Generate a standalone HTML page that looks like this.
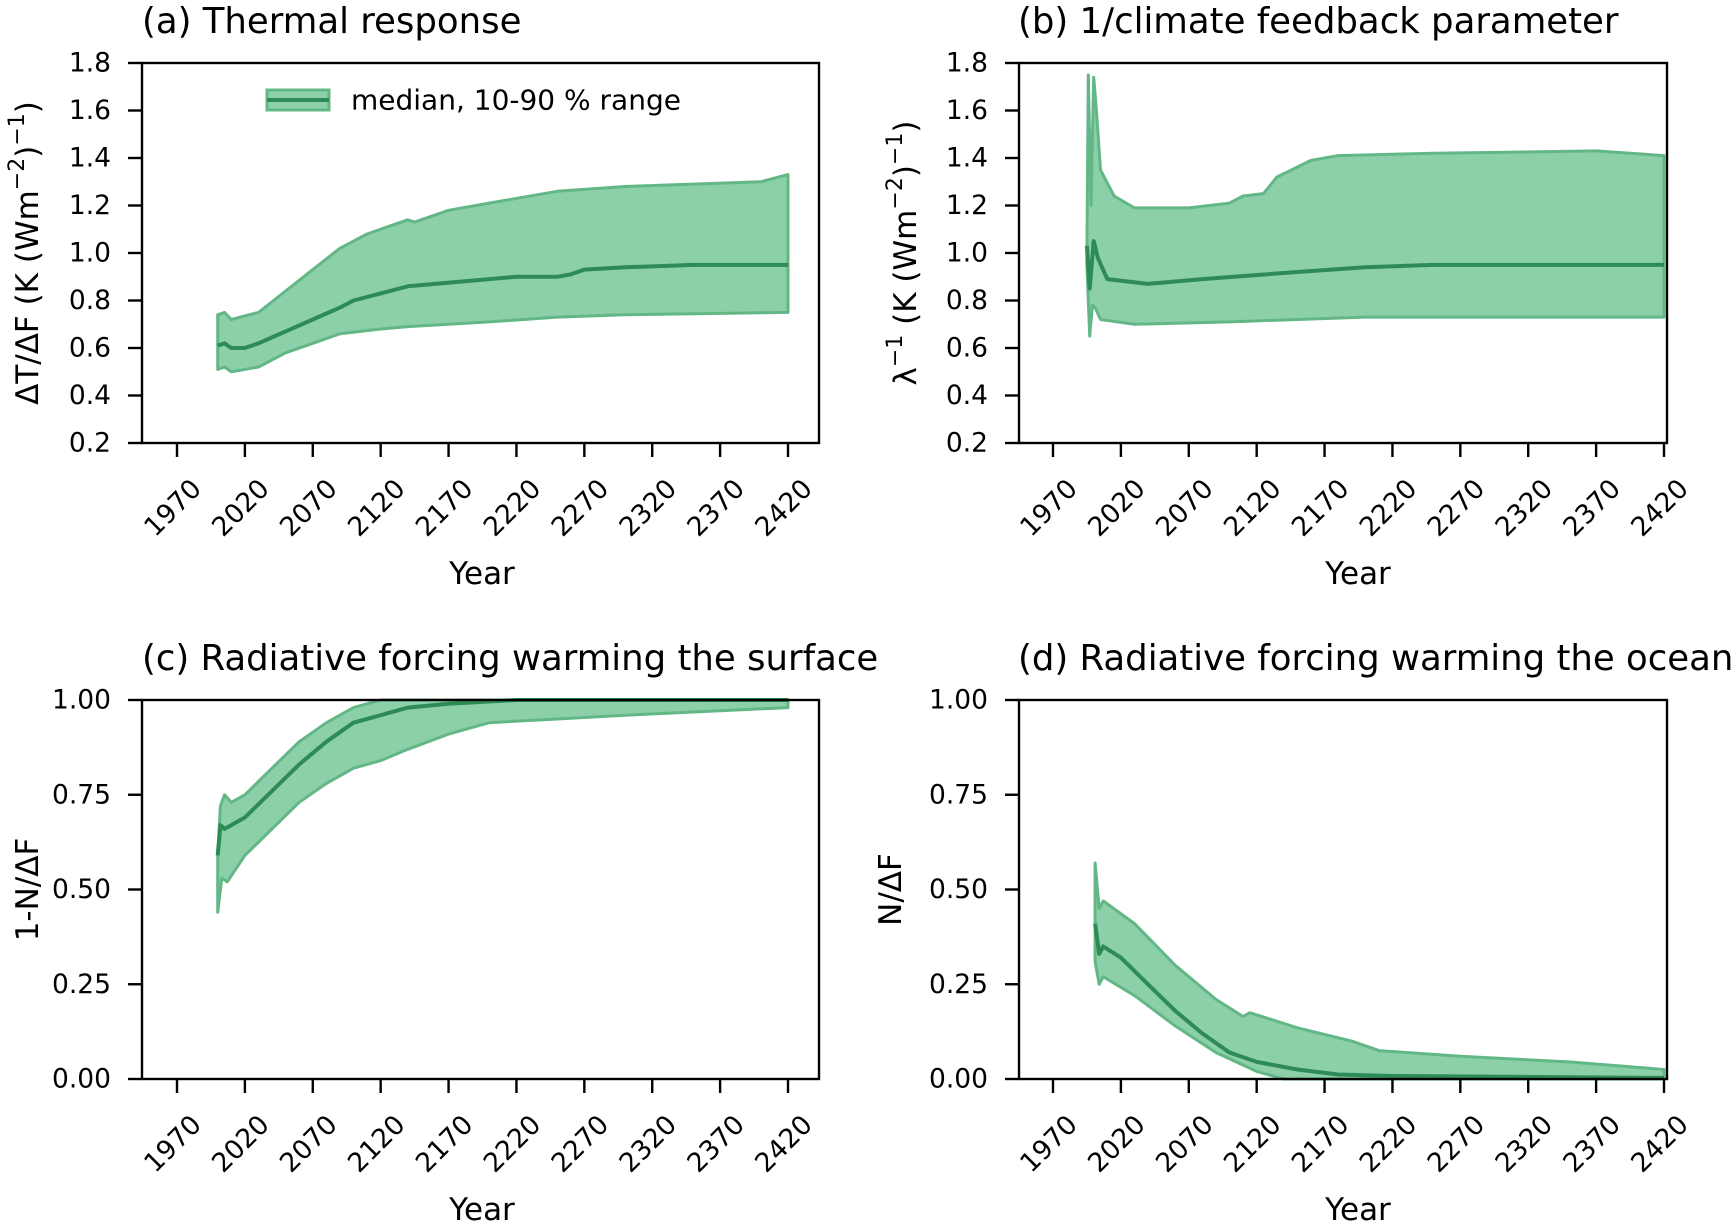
<!DOCTYPE html>
<html><head><meta charset="utf-8"><style>
body{margin:0;background:#fff;}
svg text{font-family:"DejaVu Sans","Liberation Sans",sans-serif;fill:#000;}
</style></head><body>
<svg id="fig" width="1736" height="1224" viewBox="0 0 1736 1224" xmlns="http://www.w3.org/2000/svg"></svg>
<script>
// ---- data (years, values) ----
const xTicks = [1970,2020,2070,2120,2170,2220,2270,2320,2370,2420];
const aYTicks = [0.2,0.4,0.6,0.8,1.0,1.2,1.4,1.6,1.8];
const cYTicks = [0.00,0.25,0.50,0.75,1.00];

const aMedYears = [2000,2005,2010,2020,2030,2050,2070,2090,2100,2120,2140,2160,2180,2200,2220,2250,2260,2270,2300,2350,2420];
const aMed = [0.61,0.62,0.60,0.60,0.62,0.67,0.72,0.77,0.80,0.83,0.86,0.87,0.88,0.89,0.90,0.90,0.91,0.93,0.94,0.95,0.95];
const aUpYears = [2000,2005,2010,2030,2050,2070,2090,2110,2140,2145,2170,2200,2250,2300,2350,2400,2420];
const aUp = [0.74,0.75,0.72,0.75,0.84,0.93,1.02,1.08,1.14,1.13,1.18,1.21,1.26,1.28,1.29,1.30,1.33];
const aLoYears = [2000,2005,2010,2030,2050,2070,2090,2120,2140,2200,2250,2300,2420];
const aLo = [0.51,0.52,0.50,0.52,0.58,0.62,0.66,0.68,0.69,0.71,0.73,0.74,0.75];

const bMedYears = [1995,1997,2000,2003,2010,2040,2080,2150,2200,2250,2420];
const bMed = [1.03,0.85,1.05,0.98,0.89,0.87,0.89,0.92,0.94,0.95,0.95];
const bUpYears = [1995,1996,1998,2000,2002,2005,2015,2030,2070,2100,2110,2125,2135,2160,2180,2250,2370,2420];
const bUp = [1.0,1.75,1.2,1.74,1.6,1.35,1.24,1.19,1.19,1.21,1.24,1.25,1.32,1.39,1.41,1.42,1.43,1.41];
const bLoYears = [1995,1997,1999,2001,2005,2030,2100,2150,2200,2420];
const bLo = [0.95,0.65,0.78,0.77,0.72,0.70,0.71,0.72,0.73,0.73];

const cMedYears = [2000,2002,2005,2010,2020,2040,2060,2080,2100,2120,2140,2170,2220,2420];
const cMed = [0.59,0.67,0.66,0.67,0.69,0.76,0.83,0.89,0.94,0.96,0.98,0.99,1.0,1.0];
const cUpYears = [2000,2002,2005,2010,2020,2040,2060,2080,2100,2120,2420];
const cUp = [0.59,0.72,0.75,0.73,0.75,0.82,0.89,0.94,0.98,1.0,1.0];
const cLoYears = [2000,2003,2007,2020,2040,2060,2080,2100,2120,2140,2170,2200,2250,2300,2420];
const cLo = [0.44,0.53,0.52,0.59,0.66,0.73,0.78,0.82,0.84,0.87,0.91,0.94,0.95,0.96,0.98];

const dMedYears = [2001,2004,2007,2020,2040,2060,2080,2100,2120,2150,2180,2220,2420];
const dMed = [0.41,0.33,0.35,0.32,0.25,0.18,0.12,0.07,0.045,0.025,0.012,0.008,0.003];
const dUpYears = [2001,2004,2007,2030,2060,2090,2110,2115,2150,2190,2210,2270,2350,2420];
const dUp = [0.57,0.45,0.47,0.41,0.30,0.21,0.165,0.175,0.135,0.10,0.075,0.06,0.045,0.025];
const dLoYears = [2001,2004,2007,2030,2060,2090,2120,2140,2420];
const dLo = [0.31,0.25,0.27,0.22,0.14,0.07,0.02,0.0,0.0];

const NS='http://www.w3.org/2000/svg';
const svg=document.getElementById('fig');
function mk(tag,attrs,parent){const e=document.createElementNS(NS,tag);for(const k in attrs)e.setAttribute(k,attrs[k]);(parent||svg).appendChild(e);return e;}

function panel(o){
  const g=mk('g',{});
  
  
  const px=x=>o.x1t+(x-1970)*(o.x2t-o.x1t)/450;
  const py=v=>o.bottom-(v-o.ymin)*(o.bottom-o.top)/(o.ymax-o.ymin);
  let d='';
  o.upY.forEach((yr,i)=>{d+=(i?'L':'M')+px(yr).toFixed(1)+','+py(o.up[i]).toFixed(1);});
  for(let i=o.loY.length-1;i>=0;i--){d+='L'+px(o.loY[i]).toFixed(1)+','+py(o.lo[i]).toFixed(1);}
  d+='Z';
  const band=mk('path',{d:d,fill:'#8bd0a8',stroke:'#63b787','stroke-width':3,'stroke-linejoin':'round'},g);
  
  
  const med=mk('polyline',{points:o.medY.map((yr,i)=>px(yr).toFixed(1)+','+py(o.med[i]).toFixed(1)).join(' '),fill:'none',stroke:'#2e8b57','stroke-width':4,'stroke-linejoin':'round'},g);
  
  
  const sp=mk('rect',{x:o.left,y:o.top,width:o.right-o.left,height:o.bottom-o.top,fill:'none',stroke:'#000','stroke-width':2.4},g);
  
  
  xTicks.forEach(t=>{
    const x=px(t);
    mk('line',{x1:x,y1:o.bottom,x2:x,y2:o.bottom+14,stroke:'#000','stroke-width':2.4},g);
    const cx=x-4, cy=o.bottom+65;
    const tx=mk('text',{x:cx,y:cy,'font-size':26.5,'text-anchor':'middle','dominant-baseline':'central',transform:`rotate(-45 ${cx} ${cy})`},g);
    tx.textContent=t;
    
    
  });
  o.yt.forEach(t=>{
    const y=py(t);
    mk('line',{x1:o.left-14,y1:y,x2:o.left,y2:y,stroke:'#000','stroke-width':2.4},g);
    const tx=mk('text',{x:o.left-31,y:y,'font-size':26.5,'text-anchor':'end','dominant-baseline':'central'},g);
    tx.textContent=o.fmt(t);
    
    
  });
  const ti=mk('text',{x:o.tx,y:o.top-30,'font-size':35.5},g);
  ti.textContent=o.title;
  
  
  const xl=mk('text',{x:o.xlx,y:o.bottom+141,'font-size':31,'text-anchor':'middle'},g);
  xl.textContent='Year';
  
  
  const yc=(o.top+o.bottom)/2;
  const yl=mk('text',{x:o.ylx,y:yc,'font-size':31,'text-anchor':'middle','dominant-baseline':'central',transform:`rotate(-90 ${o.ylx} ${yc})`},g);
  yl.innerHTML=o.ylab;
  
  
  return g;
}
const f1=v=>v.toFixed(1), f2=v=>v.toFixed(2);
const ylabK='(K (Wm<tspan dy="-11" font-size="22">−2</tspan><tspan dy="11">)</tspan><tspan dy="-11" font-size="22">−1</tspan><tspan dy="11">)</tspan>';
panel({name:'panel-a',left:142,right:819,top:63,bottom:443,x1t:177,x2t:788,ymin:0.2,ymax:1.8,yt:aYTicks,fmt:f1,
  upY:aUpYears,up:aUp,loY:aLoYears,lo:aLo,medY:aMedYears,med:aMed,title:'(a) Thermal response',tx:142,ylx:28,xlx:482,
  ylab:'ΔT/ΔF '+ylabK});
panel({name:'panel-b',left:1019,right:1667,top:63,bottom:443,x1t:1053,x2t:1664,ymin:0.2,ymax:1.8,yt:aYTicks,fmt:f1,
  upY:bUpYears,up:bUp,loY:bLoYears,lo:bLo,medY:bMedYears,med:bMed,title:'(b) 1/climate feedback parameter',tx:1018,ylx:906,xlx:1358,
  ylab:'λ<tspan dy="-11" font-size="22">−1</tspan><tspan dy="11"> </tspan>'+ylabK});
panel({name:'panel-c',left:142,right:819,top:700,bottom:1079,x1t:177,x2t:788,ymin:0,ymax:1,yt:cYTicks,fmt:f2,
  upY:cUpYears,up:cUp,loY:cLoYears,lo:cLo,medY:cMedYears,med:cMed,title:'(c) Radiative forcing warming the surface',tx:142,ylx:28,xlx:482,
  ylab:'1-N/ΔF'});
panel({name:'panel-d',left:1019,right:1667,top:700,bottom:1079,x1t:1053,x2t:1664,ymin:0,ymax:1,yt:cYTicks,fmt:f2,
  upY:dUpYears,up:dUp,loY:dLoYears,lo:dLo,medY:dMedYears,med:dMed,title:'(d) Radiative forcing warming the ocean',tx:1018,ylx:891,xlx:1358,
  ylab:'N/ΔF'});
const lg=mk('g',{});


mk('rect',{x:267,y:90,width:62,height:20,fill:'#8bd0a8',stroke:'#63b787','stroke-width':3},lg);
mk('line',{x1:267,y1:100,x2:329,y2:100,stroke:'#2e8b57','stroke-width':4},lg);
const lt=mk('text',{x:351,y:100,'font-size':28,'dominant-baseline':'central'},lg);
lt.textContent='median, 10-90 % range';


</script>
</body></html>
